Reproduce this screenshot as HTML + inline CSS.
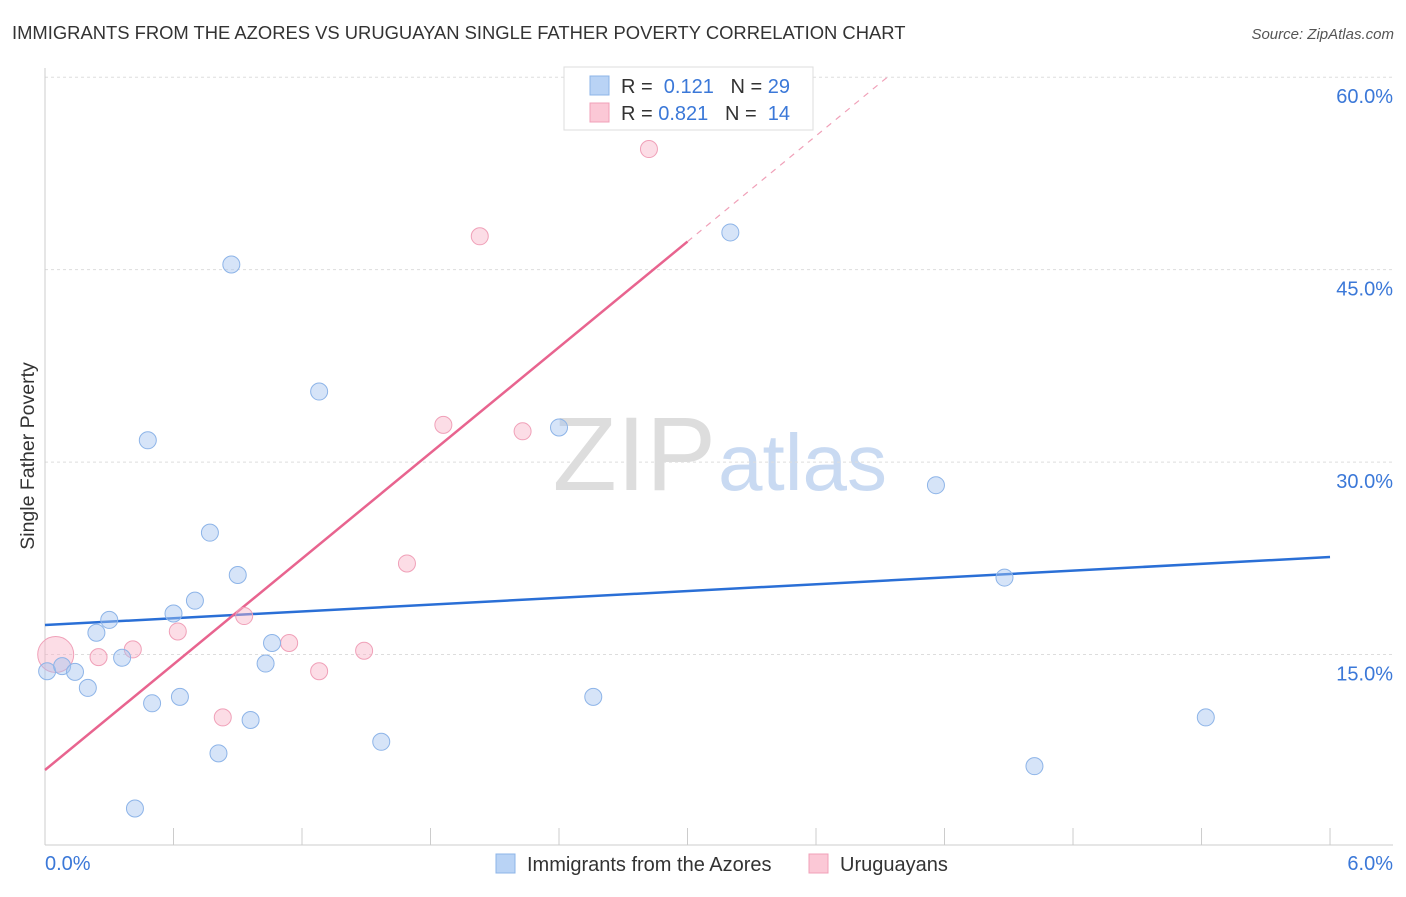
<!DOCTYPE html>
<html><head><meta charset="utf-8"><style>
body{margin:0;background:#fff;font-family:"Liberation Sans",sans-serif;}
svg text{font-family:"Liberation Sans",sans-serif;}
</style></head><body>
<svg id="c" width="1406" height="892">
<text x="12" y="39" font-size="18.4" fill="#333">IMMIGRANTS FROM THE AZORES VS URUGUAYAN SINGLE FATHER POVERTY CORRELATION CHART</text>
<text x="1394" y="39" font-size="15" fill="#555" font-style="italic" text-anchor="end">Source: ZipAtlas.com</text>
<text x="34" y="456" font-size="19.5" fill="#333" text-anchor="middle" transform="rotate(-90 34 456)">Single Father Poverty</text>
<text x="716" y="490" font-size="105" fill="#ddd" text-anchor="end" font-family="Liberation Serif">ZIP</text>
<text x="718" y="490" font-size="80" fill="#c9daf2">atlas</text>
<g id="grid"></g><g id="trend"></g><g id="pts"></g>
<g>
<rect x="564" y="67" width="249" height="63" fill="#fff" stroke="#ddd"/>
<rect x="590" y="76" width="19" height="19" fill="#b9d3f5" stroke="#8db4e8"/>
<rect x="590" y="103" width="19" height="19" fill="#fbc8d6" stroke="#f0a0b8"/>
<text x="621" y="93" font-size="20" fill="#333">R = <tspan fill="#3b78d8">&#160;0.121</tspan>&#160;&#160;&#160;N = <tspan fill="#3b78d8">29</tspan></text>
<text x="621" y="120" font-size="20" fill="#333">R = <tspan fill="#3b78d8">0.821</tspan>&#160;&#160;&#160;N = <tspan fill="#3b78d8">&#160;14</tspan></text>
</g>
<g>
<rect x="496" y="854" width="19" height="19" fill="#b9d3f5" stroke="#8db4e8"/>
<text x="527" y="871" font-size="20" fill="#333">Immigrants from the Azores</text>
<rect x="809" y="854" width="19" height="19" fill="#fbc8d6" stroke="#f0a0b8"/>
<text x="840" y="871" font-size="20" fill="#333">Uruguayans</text>
</g>
</svg>
<script>
const blueX=[0.01,0.08,0.14,0.20,0.24,0.30,0.36,0.42,0.48,0.50,0.60,0.63,0.70,0.77,0.81,0.87,0.90,0.96,1.03,1.06,1.28,1.57,2.40,2.56,3.20,4.16,4.48,4.62,5.42];
const blueY=[13.7,14.1,13.65,12.4,16.7,17.7,14.75,3.0,31.7,11.2,18.2,11.7,19.2,24.5,7.3,45.4,21.2,9.9,14.3,15.9,35.5,8.2,32.7,11.7,47.9,28.2,21.0,6.3,10.1];
const pinkX=[0.05,0.25,0.41,0.62,0.83,0.93,1.14,1.28,1.49,1.69,1.86,2.03,2.23,2.82];
const pinkY=[15.0,14.8,15.4,16.8,10.1,18.0,15.9,13.7,15.3,22.1,32.9,47.6,32.4,54.4];
const yTicks=[15,30,45,60];
const xTickLabels=["0.0%","6.0%"];
const blueTrend=[17.3,22.6];
const pinkTrend=[6.0,13.73];
const NS="http://www.w3.org/2000/svg";
const sx=v=>45+v*214.17, sy=v=>847-v*12.83;
function mk(t,a,p){const e=document.createElementNS(NS,t);for(const k in a)e.setAttribute(k,a[k]);p.appendChild(e);return e;}
const g=document.getElementById('grid'),tr=document.getElementById('trend'),pts=document.getElementById('pts');
yTicks.forEach(v=>{
 const l=mk('line',{x1:45,x2:1393,y1:sy(v),y2:sy(v),stroke:'#ddd','stroke-dasharray':'3,3'},g);
 
 
 const t=mk('text',{x:1393,y:sy(v)+26,'font-size':20,fill:'#3b78d8','text-anchor':'end'},g);t.textContent=v.toFixed(1)+'%';
 
 
});
mk('line',{x1:45,x2:45,y1:68,y2:845,stroke:'#ccc'},g);
mk('line',{x1:45,x2:1393,y1:845,y2:845,stroke:'#ccc'},g);
for(let i=0;i<=10;i++){const x=sx(i*0.6);mk('line',{x1:x,x2:x,y1:828,y2:845,stroke:'#ccc'},g);}
xTickLabels.forEach((s,i)=>{const t=mk('text',{x:i?1393:45,y:870,'font-size':20,fill:'#3b78d8','text-anchor':i?'end':'start'},g);t.textContent=s;
 
 });
const bl=mk('line',{x1:sx(0),y1:sy(blueTrend[0]),x2:sx(6),y2:sy(blueTrend[1]),stroke:'#2a6fd6','stroke-width':2.5},tr);


const pf=x=>pinkTrend[0]+pinkTrend[1]*x;
const xEnd=(60-pinkTrend[0])/pinkTrend[1];
const pl=mk('line',{x1:sx(0),y1:sy(pf(0)),x2:sx(3),y2:sy(pf(3)),stroke:'#e8648f','stroke-width':2.5},tr);


const pd=mk('line',{x1:sx(3),y1:sy(pf(3)),x2:sx(xEnd),y2:sy(pf(xEnd)),stroke:'#f0a0b8','stroke-width':1.2,'stroke-dasharray':'6,6'},tr);


pinkX.forEach((x,i)=>{const c=mk('circle',{cx:sx(x),cy:sy(pinkY[i]),r:i===0?18:8.5,fill:'rgba(248,180,200,0.45)',stroke:'#f0a0b8','stroke-width':1},pts);
 
 });
blueX.forEach((x,i)=>{const c=mk('circle',{cx:sx(x),cy:sy(blueY[i]),r:8.5,fill:'rgba(164,196,240,0.45)',stroke:'#8db4e8','stroke-width':1},pts);
 
 });
</script>
</body></html>
